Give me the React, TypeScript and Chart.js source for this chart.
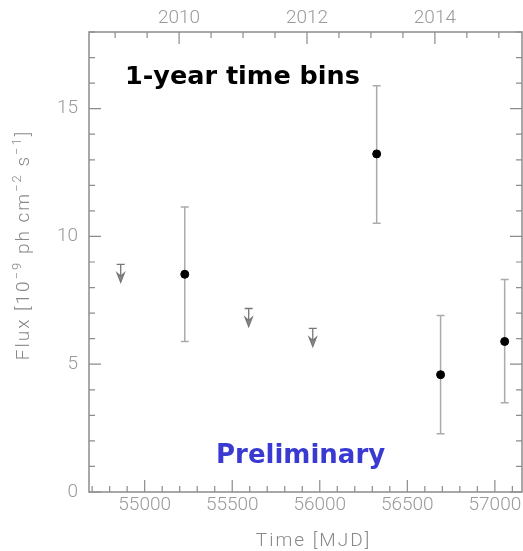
import { useEffect, useRef } from "react";
import { Chart, registerables } from "chart.js";

Chart.register(...registerables);

// Detected 1-year bins: centre time, flux and 1-sigma bounds (10^-9 ph cm^-2 s^-1)
const detectionMjd = [55229, 56325, 56690, 57056];
const detectionFlux = [8.52, 13.23, 4.59, 5.89];
const detectionLow = [5.89, 10.52, 2.28, 3.49];
const detectionHigh = [11.15, 15.9, 6.91, 8.32];

// Bins with only an upper limit
const upperLimitMjd = [54863, 55594, 55960];
const upperLimitFlux = [8.91, 7.18, 6.4];

// Axis ticks
const mjdTicks = [55000, 55500, 56000, 56500, 57000];
const mjdMinorStep = 100;
const fluxTicks = [0, 5, 10, 15];
const fluxMinorStep = 1;
const yearTicks = [2010, 2012, 2014];
const yearMinorStep = 0.5;

const MJD_MIN = 54682;
const MJD_MAX = 57155;
const FLUX_MIN = 0;
const FLUX_MAX = 18;

// Axis titles, split into normal and superscript runs
const xTitle: [string, boolean][] = [["Time [MJD]", false]];
const yTitle: [string, boolean][] = [
  ["Flux [10", false],
  ["−9", true],
  [" ph cm", false],
  ["−2", true],
  [" s", false],
  ["−1", true],
  ["]", false],
];

const yearToMjd = (year: number) => 51544 + (year - 2000) * 365.25;

const AXIS_COLOR = "#8c8c8c";
const LABEL_COLOR = "#9a9a9a";
const TITLE_COLOR = "#888888";
const ERR_COLOR = "#ababab";
const UL_COLOR = "#777777";
const FONT_FAMILY = "Roboto, 'DejaVu Sans', sans-serif";
const LABEL_FONT = { family: FONT_FAMILY, size: 19, weight: 300 as any };

function drawRuns(ctx: CanvasRenderingContext2D, runs: [string, boolean][], size: number) {
  const normal = `300 ${size}px ${FONT_FAMILY}`;
  const small = `300 ${Math.round(size * 0.68)}px ${FONT_FAMILY}`;
  (ctx as any).letterSpacing = "2px";
  const widths = runs.map(([t, sup]) => {
    ctx.font = sup ? small : normal;
    return ctx.measureText(t).width;
  });
  const total = widths.reduce((s, w) => s + w, 0);
  let cx = -total / 2;
  ctx.textAlign = "left";
  ctx.textBaseline = "alphabetic";
  runs.forEach(([t, sup], i) => {
    ctx.font = sup ? small : normal;
    ctx.fillText(t, cx, sup ? -size * 0.42 : 0);
    cx += widths[i];
  });
  (ctx as any).letterSpacing = "0px";
}

const lightcurveDecor = {
  id: "lightcurveDecor",
  beforeDatasetsDraw(chart: any) {
    const { ctx, scales } = chart;
    const x = scales.x;
    const y = scales.y;
    ctx.save();
    ctx.strokeStyle = ERR_COLOR;
    ctx.lineWidth = 1.5;
    detectionMjd.forEach((m, i) => {
      const px = x.getPixelForValue(m);
      const top = y.getPixelForValue(detectionHigh[i]);
      const bot = y.getPixelForValue(detectionLow[i]);
      ctx.beginPath();
      ctx.moveTo(px, top);
      ctx.lineTo(px, bot);
      ctx.moveTo(px - 4, top);
      ctx.lineTo(px + 4, top);
      ctx.moveTo(px - 4, bot);
      ctx.lineTo(px + 4, bot);
      ctx.stroke();
    });
    ctx.restore();
  },
  afterDatasetsDraw(chart: any) {
    const { ctx, scales } = chart;
    const x = scales.x;
    const y = scales.y;
    ctx.save();
    // upper-limit arrows
    upperLimitMjd.forEach((m, i) => {
      const px = x.getPixelForValue(m);
      const top = y.getPixelForValue(upperLimitFlux[i]);
      ctx.strokeStyle = UL_COLOR;
      ctx.lineWidth = 1.3;
      ctx.beginPath();
      ctx.moveTo(px - 4, top);
      ctx.lineTo(px + 4, top);
      ctx.moveTo(px, top);
      ctx.lineTo(px, top + 16);
      ctx.stroke();
      ctx.fillStyle = "#8a8a8a";
      ctx.beginPath();
      ctx.moveTo(px - 3.5, top + 9);
      ctx.lineTo(px, top + 18);
      ctx.lineTo(px + 3.5, top + 9);
      ctx.lineTo(px, top + 12);
      ctx.closePath();
      ctx.fill();
      ctx.stroke();
    });

    // frame and inward tick marks
    const a = chart.chartArea;
    ctx.strokeStyle = AXIS_COLOR;
    ctx.lineWidth = 1.5;
    ctx.strokeRect(a.left, a.top, a.right - a.left, a.bottom - a.top);
    ctx.lineWidth = 1.2;
    ctx.beginPath();
    for (let v = Math.ceil(MJD_MIN / mjdMinorStep) * mjdMinorStep; v <= MJD_MAX; v += mjdMinorStep) {
      const px = x.getPixelForValue(v);
      const len = mjdTicks.includes(v) ? 12 : 6;
      ctx.moveTo(px, a.bottom);
      ctx.lineTo(px, a.bottom - len);
    }
    for (let v = FLUX_MIN; v <= FLUX_MAX; v += fluxMinorStep) {
      const py = y.getPixelForValue(v);
      const len = fluxTicks.includes(v) ? 12 : 6;
      ctx.moveTo(a.left, py);
      ctx.lineTo(a.left + len, py);
      ctx.moveTo(a.right, py);
      ctx.lineTo(a.right - len, py);
    }
    for (let yr = 2009; yr <= 2016; yr += yearMinorStep) {
      const mjd = yearToMjd(yr);
      if (mjd < MJD_MIN || mjd > MJD_MAX) continue;
      const px = x.getPixelForValue(mjd);
      const len = yearTicks.includes(yr) ? 12 : 6;
      ctx.moveTo(px, a.top);
      ctx.lineTo(px, a.top + len);
    }
    ctx.stroke();

    // axis titles
    ctx.fillStyle = TITLE_COLOR;
    ctx.save();
    ctx.translate((a.left + a.right) / 2 + 8, a.bottom + 54);
    drawRuns(ctx, xTitle, 19);
    ctx.restore();
    ctx.save();
    ctx.translate(28.5, (a.top + a.bottom) / 2 - 17);
    ctx.rotate(-Math.PI / 2);
    drawRuns(ctx, yTitle, 19);
    ctx.restore();

    // plot annotations
    ctx.textAlign = "left";
    ctx.textBaseline = "alphabetic";
    ctx.font = "bold 25.5px 'DejaVu Sans', sans-serif";
    ctx.fillStyle = "#000000";
    ctx.fillText("1-year time bins", a.left + 36, a.top + 52);
    ctx.font = "bold 26px 'DejaVu Sans', sans-serif";
    ctx.fillStyle = "#3a3ad2";
    ctx.fillText("Preliminary", a.left + 127, a.bottom - 29);
    ctx.restore();
  },
};

export default function App() {
  const canvasRef = useRef<HTMLCanvasElement | null>(null);

  useEffect(() => {
    document.body.style.margin = "0";
    const canvas = canvasRef.current;
    if (!canvas) return;
    const chart = new Chart(canvas, {
      type: "scatter",
      data: {
        datasets: [
          {
            label: "Detections",
            data: detectionMjd.map((m, i) => ({ x: m, y: detectionFlux[i] })),
            backgroundColor: "#000000",
            borderColor: "#000000",
            pointRadius: 4,
            pointHoverRadius: 4,
            xAxisID: "x",
            yAxisID: "y",
          },
          {
            label: "Upper limits",
            data: upperLimitMjd.map((m, i) => ({ x: m, y: upperLimitFlux[i] })),
            pointRadius: 0,
            pointHoverRadius: 0,
            xAxisID: "x",
            yAxisID: "y",
          },
        ],
      },
      options: {
        responsive: false,
        animation: false,
        devicePixelRatio: 1,
        layout: { autoPadding: false, padding: { top: 0, right: 1, bottom: 0, left: 0 } },
        plugins: { legend: { display: false }, tooltip: { enabled: false } },
        scales: {
          x: {
            type: "linear",
            position: "bottom",
            min: MJD_MIN,
            max: MJD_MAX,
            grid: { display: false, drawTicks: false, tickLength: 0 },
            border: { display: false },
            ticks: {
              color: LABEL_COLOR,
              font: LABEL_FONT,
              padding: 2,
              maxRotation: 0,
              autoSkip: false,
              callback: (v: any) => String(v),
            },
            afterBuildTicks: (s: any) => {
              s.ticks = mjdTicks.map((v) => ({ value: v }));
            },
            afterFit: (s: any) => {
              s.height = 59;
              s.paddingLeft = 0;
              s.paddingRight = 0;
            },
          },
          xTop: {
            type: "linear",
            position: "top",
            min: MJD_MIN,
            max: MJD_MAX,
            grid: { display: false, drawTicks: false, tickLength: 0 },
            border: { display: false },
            ticks: {
              color: LABEL_COLOR,
              font: LABEL_FONT,
              padding: 2,
              maxRotation: 0,
              autoSkip: false,
              callback: (_v: any, i: number) => String(yearTicks[i]),
            },
            afterBuildTicks: (s: any) => {
              s.ticks = yearTicks.map((yr) => ({ value: yearToMjd(yr) }));
            },
            afterFit: (s: any) => {
              s.height = 32;
              s.paddingLeft = 0;
              s.paddingRight = 0;
            },
          },
          y: {
            type: "linear",
            min: FLUX_MIN,
            max: FLUX_MAX,
            grid: { display: false, drawTicks: false, tickLength: 0 },
            border: { display: false },
            ticks: {
              color: LABEL_COLOR,
              font: LABEL_FONT,
              padding: 11,
              callback: (v: any) => String(v),
            },
            afterBuildTicks: (s: any) => {
              s.ticks = fluxTicks.map((v) => ({ value: v }));
            },
            afterFit: (s: any) => {
              s.width = 89;
              s.paddingTop = 0;
              s.paddingBottom = 0;
            },
          },
        },
      },
      plugins: [lightcurveDecor],
    });
    return () => chart.destroy();
  }, []);

  return (
    <div style={{ position: "absolute", left: 0, top: 0, width: 523, height: 551, background: "#ffffff" }}>
      <canvas ref={canvasRef} width={523} height={551} />
    </div>
  );
}
